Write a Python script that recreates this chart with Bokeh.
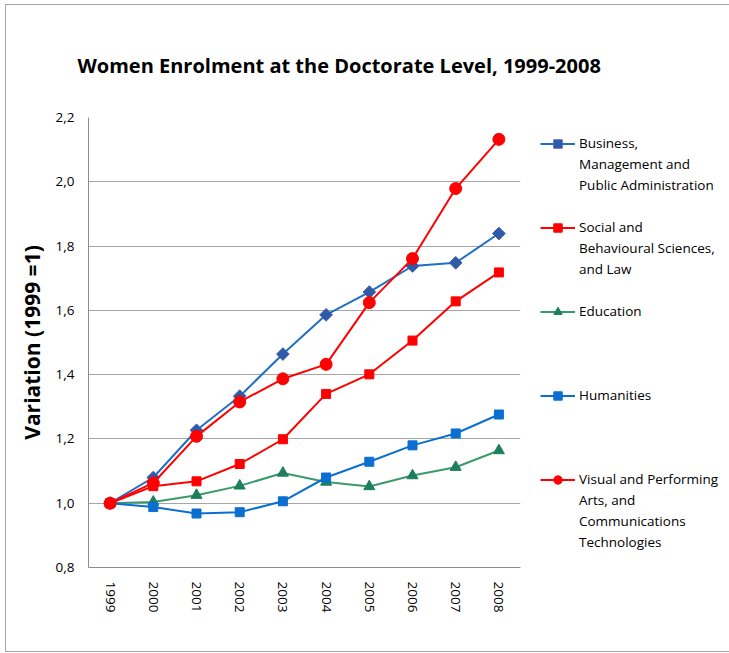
import math
from bokeh.plotting import figure
from bokeh.models import (Range1d, FactorRange, FixedTicker, CustomJSTickFormatter,
                          Legend, LegendItem)
from bokeh.embed import file_html
from bokeh.resources import INLINE

years = ["1999", "2000", "2001", "2002", "2003", "2004", "2005", "2006", "2007", "2008"]
business = [1.0, 1.080, 1.227, 1.333, 1.464, 1.586, 1.657, 1.738, 1.748, 1.839]
social = [1.0, 1.053, 1.068, 1.122, 1.199, 1.340, 1.401, 1.506, 1.628, 1.718]
education = [1.0, 1.004, 1.025, 1.054, 1.094, 1.066, 1.052, 1.086, 1.112, 1.164]
humanities = [1.0, 0.988, 0.968, 0.972, 1.006, 1.080, 1.129, 1.180, 1.217, 1.276]
visual = [1.0, 1.063, 1.208, 1.315, 1.387, 1.432, 1.624, 1.761, 1.979, 2.132]
y_ticks = [0.8, 1.0, 1.2, 1.4, 1.6, 1.8, 2.0, 2.2]

# legend labels, one list of wrapped lines per series
label_lines = [
    ["Business,", "Management and", "Public Administration"],
    ["Social and", "Behavioural Sciences,", "and Law"],
    ["Education"],
    ["Humanities"],
    ["Visual and Performing", "Arts, and", "Communications", "Technologies"],
]

FONT = "Open Sans"
ROW = 21     # legend row pitch
SLOT = 4     # rows reserved for each legend entry

p = figure(frame_width=432, frame_height=450,
           x_range=FactorRange(*years, range_padding=0),
           y_range=Range1d(0.8, 2.2), output_backend="svg", toolbar_location=None,
           min_border_left=82, min_border_right=206, min_border_top=112,
           min_border_bottom=84,
           title="Women Enrolment at the Doctorate Level, 1999-2008")
p.outline_line_color = None
p.xgrid.grid_line_color = None
p.ygrid.grid_line_color = "#a6a6a6"
p.ygrid.grid_line_width = 1
p.styles = {"border": "1px solid #a6a6a6", "margin-left": "5px", "margin-top": "4px"}

p.title.text_font = FONT
p.title.text_font_style = "bold"
p.title.text_font_size = "20px"
p.title.text_color = "#000000"
p.title.align = "left"
p.title.offset = -11
p.title.standoff = 77

p.yaxis.ticker = FixedTicker(ticks=y_ticks)
p.yaxis.formatter = CustomJSTickFormatter(code="return tick.toFixed(1).replace('.', ',');")
for ax in (p.xaxis, p.yaxis):
    ax.axis_line_color = "#8c8c8c"
    ax.major_tick_line_color = None
    ax.minor_tick_line_color = None
    ax.major_label_text_font = FONT
    ax.major_label_text_font_size = "13.5px"
    ax.major_label_text_color = "#000000"
p.xaxis.major_label_orientation = "vertical"
p.xaxis.major_label_standoff = 8
p.yaxis.major_label_standoff = 8
p.yaxis.axis_label = "Variation (1999 =1)"
p.yaxis.axis_label_text_font = FONT
p.yaxis.axis_label_text_font_style = "bold"
p.yaxis.axis_label_text_font_size = "21px"
p.yaxis.axis_label_text_color = "#000000"
p.yaxis.axis_label_standoff = 7

series = [
    (business, "#1f6fc5", "square", 9, "#2e5aa8", "#4a5ea8", math.pi / 4),
    (social, "#ff0000", "square", 9, "#ff0000", "#ff0000", 0),
    (education, "#3a9a6a", "triangle", 11, "#1e7f5c", "#1e7f5c", 0),
    (humanities, "#0a6fd0", "square", 9, "#0a6fd0", "#0a6fd0", 0),
    (visual, "#ff0000", "circle", 12, "#ff0000", "#ff0000", 0),
]
items = []
for k, ((vals, lc, marker, size, fc, oc, ang), lines) in enumerate(zip(series, label_lines)):
    l = p.line(years, vals, line_color=lc, line_width=2)
    s = p.scatter(years, vals, marker=marker, size=size, fill_color=fc, line_color=oc,
                  angle=ang)
    items.append(LegendItem(label=lines[0], renderers=[l, s]))
    for extra in lines[1:]:
        items.append(LegendItem(label=extra, renderers=[]))
    if k < len(series) - 1:
        for _ in range(SLOT - len(lines)):
            items.append(LegendItem(label="", renderers=[]))

n_rows = len(items)
legend_top = 15.5  # first row top, below the frame top
leg = Legend(items=items, location=(20, 450 - legend_top - n_rows * ROW), ncols=1,
             padding=0, margin=0, spacing=0, border_line_alpha=0, background_fill_alpha=0,
             glyph_width=35, glyph_height=ROW, label_standoff=4,
             label_height=ROW, label_text_font=FONT, label_text_font_size="13.5px",
             label_text_color="#000000")
p.add_layout(leg, "right")

open("out.html", "w").write(file_html(p, INLINE))
